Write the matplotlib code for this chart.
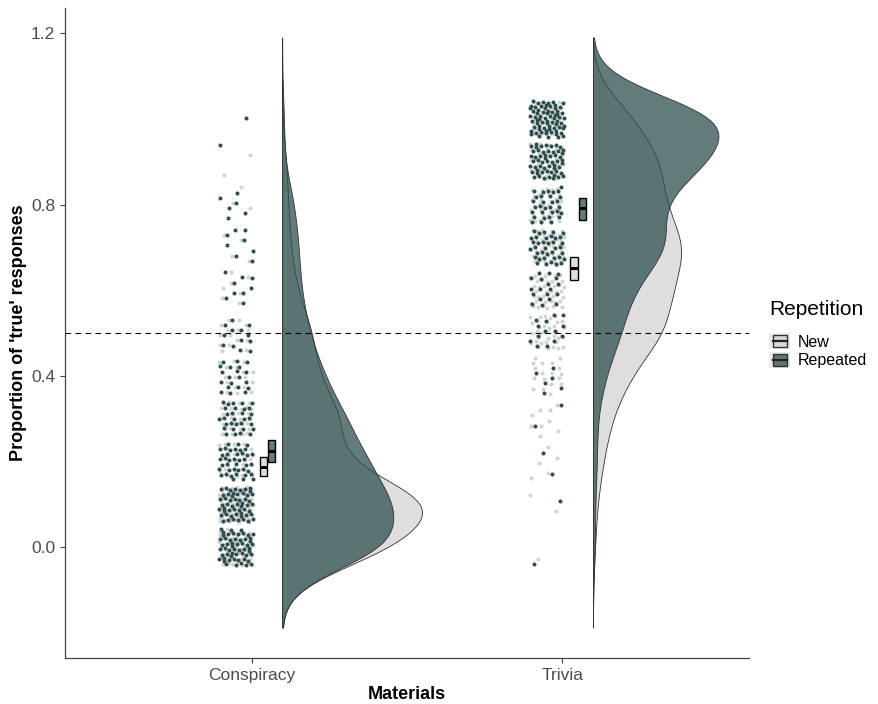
import numpy as np
import matplotlib
matplotlib.use('Agg')
import matplotlib.pyplot as plt
from matplotlib.colors import to_rgba
from matplotlib.patches import Rectangle
from matplotlib.lines import Line2D
from matplotlib.legend_handler import HandlerBase

plt.rcParams['font.family'] = ['Liberation Sans', 'DejaVu Sans']

MATERIALS = ['Conspiracy', 'Trivia']
CONDITIONS = ['New', 'Repeated']
LEVELS = [0.0, 0.1, 0.2, 0.3, 0.4, 0.5, 0.6, 0.7, 0.8, 0.9, 1.0]

# participants at each proportion level
consp_new = [57, 79, 26, 30, 17, 15, 7, 4, 3, 2, 0]
consp_rep = [56, 54, 41, 31, 20, 13, 9, 8, 6, 1, 1]
trivia_new = [1, 2, 5, 9, 18, 35, 38, 45, 34, 33, 20]
trivia_rep = [1, 1, 2, 2, 6, 14, 19, 38, 31, 56, 70]

# small boxes: lower, middle, upper
consp_new_box = [0.166, 0.187, 0.210]
consp_rep_box = [0.199, 0.225, 0.250]
trivia_new_box = [0.625, 0.653, 0.678]
trivia_rep_box = [0.765, 0.793, 0.816]

CHANCE = 0.5

COLORS = {'New': 'lightgrey', 'Repeated': 'darkslategrey'}
ALPHA = 0.75
BW = 0.063  # kde bandwidth
VIOLIN_HALF = 0.45


def kde(levels, counts, bw):
    levels = np.asarray(levels, dtype=float)
    counts = np.asarray(counts, dtype=float)
    used = levels[counts > 0]
    grid = np.linspace(used.min() - 3 * bw, used.max() + 3 * bw, 512)
    z = (grid[:, None] - levels[None, :]) / bw
    dens = (np.exp(-0.5 * z ** 2) * counts).sum(axis=1)
    dens /= counts.sum() * bw * np.sqrt(2 * np.pi)
    return grid, dens


def spread(n, offset):
    # quasi random jitter in [-1, 1]
    i = np.arange(n) + offset
    u = (0.5 + i * 0.7548776662466927) % 1
    v = (0.5 + i * 0.5698402909980532) % 1
    return u * 2 - 1, v * 2 - 1


class BoxKey(HandlerBase):
    def create_artists(self, legend, orig_handle, xdescent, ydescent,
                       width, height, fontsize, trans):
        col = orig_handle.get_facecolor()
        bg = Rectangle((-xdescent, -ydescent), width, height,
                       facecolor='#ebebeb', edgecolor='none', transform=trans)
        box = Rectangle((-xdescent + width * 0.15, -ydescent + height * 0.12),
                        width * 0.7, height * 0.76, facecolor=col,
                        edgecolor='#333333', lw=1.0, transform=trans)
        mid = Line2D([-xdescent + width * 0.15, -xdescent + width * 0.85],
                     [-ydescent + height * 0.5] * 2, color='#222222',
                     lw=1.6, transform=trans)
        return [bg, box, mid]


groups = {
    ('Conspiracy', 'New'): (consp_new, consp_new_box),
    ('Conspiracy', 'Repeated'): (consp_rep, consp_rep_box),
    ('Trivia', 'New'): (trivia_new, trivia_new_box),
    ('Trivia', 'Repeated'): (trivia_rep, trivia_rep_box),
}

dens_all = {k: kde(LEVELS, v[0], BW) for k, v in groups.items()}
dmax = max(d.max() for _, d in dens_all.values())

fig = plt.figure(figsize=(8.79, 7.04), dpi=100)
ax = fig.add_axes([0.074, 0.0653, 0.778, 0.9233])

box_shift = {'New': 0.038, 'Repeated': 0.064}

for mi, mat in enumerate(MATERIALS):
    xc = mi + 1
    for ci, cond in enumerate(CONDITIONS):
        counts, box = groups[(mat, cond)]
        col = COLORS[cond]

        # half violin
        grid, dens = dens_all[(mat, cond)]
        x0 = xc + 0.1
        xs = np.concatenate([[x0], x0 + dens / dmax * VIOLIN_HALF, [x0]])
        ys = np.concatenate([[grid[0]], grid, [grid[-1]]])
        ax.fill(xs, ys, facecolor=to_rgba(col, ALPHA), edgecolor='#333333',
                lw=0.6, zorder=2 + ci)

        # jittered points
        y = np.repeat(LEVELS, counts)
        jx, jy = spread(len(y), 1000 * (2 * mi + ci))
        ax.scatter(xc - 0.05 + jx * 0.055, y + jy * 0.042, s=8.5, color=col,
                   linewidths=0, zorder=2 + ci)

        # small box
        bx = xc + box_shift[cond]
        ax.add_patch(Rectangle((bx - 0.012, box[0]), 0.024, box[2] - box[0],
                               facecolor=to_rgba(col, ALPHA),
                               edgecolor='black', lw=1.0, zorder=6))
        ax.plot([bx - 0.012, bx + 0.012], [box[1], box[1]], color='black',
                lw=2.2, zorder=7, solid_capstyle='butt')

ax.axhline(CHANCE, color='black', lw=0.8, ls=(0, (5, 4)), zorder=8)

ax.set_xlim(0.4, 2.6)
ax.set_ylim(-0.259, 1.259)
ax.set_xticks([1, 2])
ax.set_xticklabels(MATERIALS)
ax.set_yticks([0.0, 0.4, 0.8, 1.2])
ax.set_yticklabels(['0.0', '0.4', '0.8', '1.2'])
ax.tick_params(labelsize=12.5, labelcolor='#4d4d4d', color='#444444',
               length=3.5, width=0.8)
for side in ['top', 'right']:
    ax.spines[side].set_visible(False)
for side in ['left', 'bottom']:
    ax.spines[side].set_color('#444444')
    ax.spines[side].set_linewidth(0.9)

ax.set_xlabel('Materials', fontsize=13, fontweight='bold', labelpad=2)
ax.set_ylabel("Proportion of 'true' responses", fontsize=13,
              fontweight='bold', labelpad=3)

handles = [Rectangle((0, 0), 1, 1, facecolor=to_rgba(COLORS[c], ALPHA))
           for c in CONDITIONS]
leg = fig.legend(handles, CONDITIONS, title='Repetition', loc='center left',
                 bbox_to_anchor=(0.859, 0.525), frameon=False, fontsize=11.5,
                 title_fontsize=15, handler_map={Rectangle: BoxKey()},
                 handlelength=1.3, handleheight=1.15, handletextpad=0.45,
                 labelspacing=0.15, alignment='left')
leg._legend_box.sep = 10

fig.savefig('out.png', dpi=100)
